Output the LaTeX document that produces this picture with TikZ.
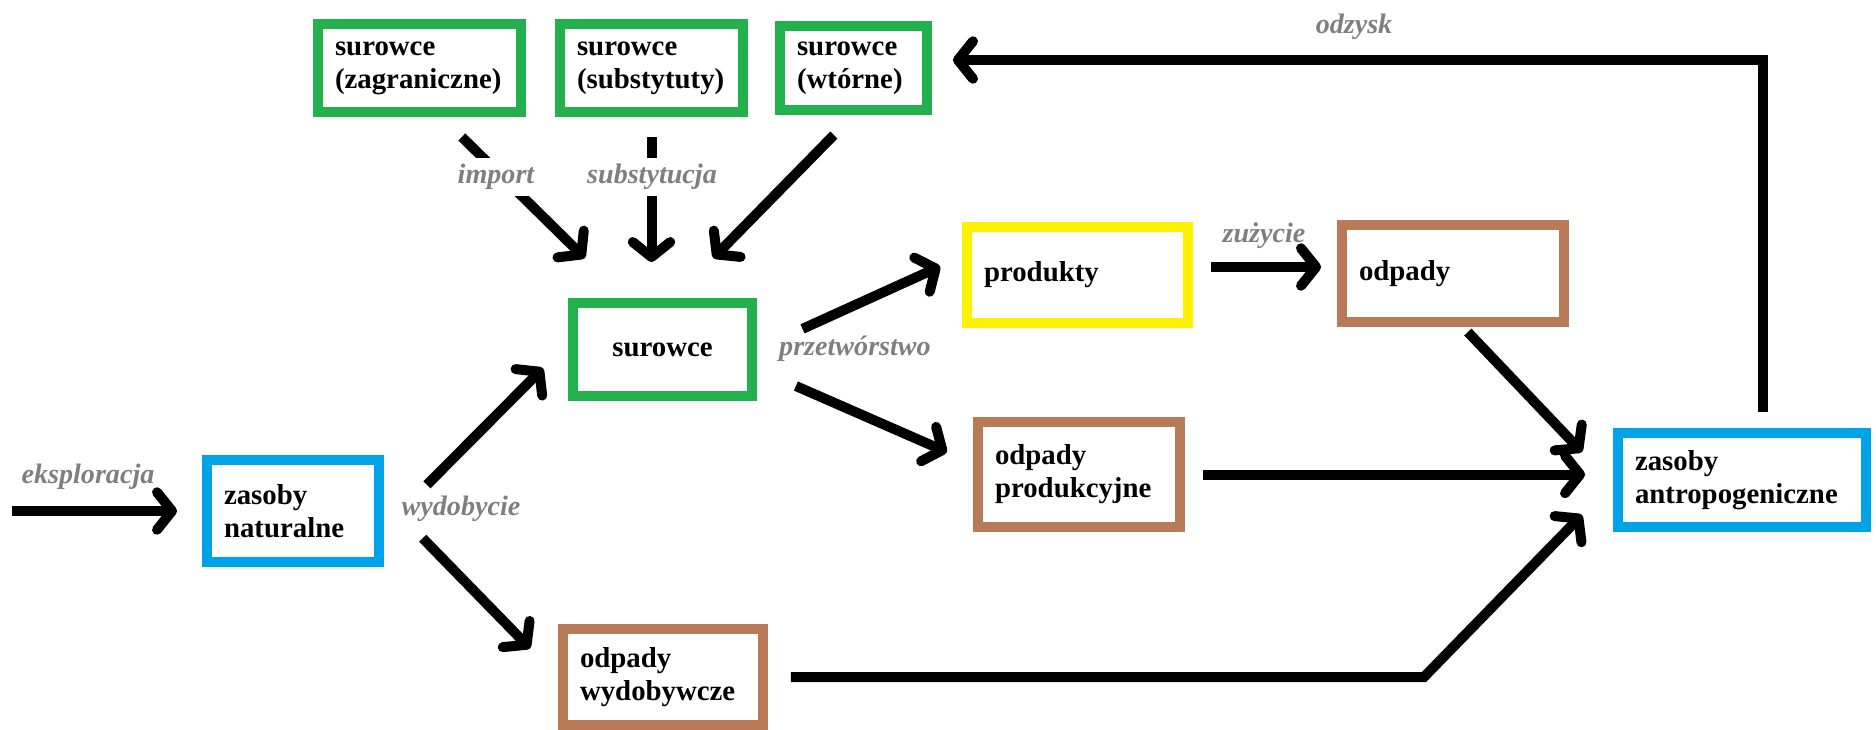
\documentclass[tikz,border=0pt]{standalone}
\usepackage{fontspec}
\setmainfont{Liberation Serif}
\usepackage{tikz}
\usetikzlibrary{arrows.meta}
\definecolor{boxgreen}{RGB}{34,177,76}
\definecolor{boxblue}{RGB}{0,162,232}
\definecolor{boxyellow}{RGB}{255,242,0}
\definecolor{boxbrown}{RGB}{185,122,87}
\definecolor{lblgray}{RGB}{127,127,127}
\hyphenpenalty=10000
\newcommand{\boxfont}{\fontsize{16.4}{18.8}\selectfont\bfseries}
\newcommand{\lblfont}{\fontsize{16}{18}\selectfont\bfseries\itshape}
\tikzset{x=0.02cm,y=-0.02cm}
\tikzset{box/.style={draw,rectangle,line width=0.2cm,align=left,inner xsep=0.34cm,inner ysep=0pt,font=\boxfont},
        flow/.style={line width=0.2cm,-{Straight Barb[length=0.3cm,width=0.75cm,round]}},
        lbl/.style={font=\lblfont,text=lblgray}}

\begin{document}
\begin{tikzpicture}[x=0.02cm,y=-0.02cm]
        \useasboundingbox (0,0) rectangle (1876,730);
        % surowce
        \node[box,draw=boxgreen,text width=3.38cm,minimum height=1.76cm] (zagr) at (419.5,68) {surowce\\(zagraniczne)};
        \node[box,draw=boxgreen,text width=2.98cm,minimum height=1.76cm] (subst) at (651.5,68) {surowce\\(substytuty)};
        \node[box,draw=boxgreen,text width=2.26cm,minimum height=1.68cm] (wtor) at (853.5,68) {surowce\\(wtórne)};
        \node[box,draw=boxgreen,text width=2.9cm,minimum height=1.86cm,align=center] (sur) at (662.5,349.5) {surowce};
        % produkty i odpady
        \node[box,draw=boxyellow,text width=3.74cm,minimum height=1.92cm] (prod) at (1077.5,275) {produkty};
        \node[box,draw=boxbrown,text width=3.76cm,minimum height=1.94cm] (odp) at (1453,273.5) {odpady};
        \node[box,draw=boxbrown,text width=3.36cm,minimum height=2.1cm] (odpprod) at (1079,474.5) {odpady\\produkcyjne};
        \node[box,draw=boxbrown,text width=3.32cm,minimum height=1.92cm] (odpwyd) at (663,677) {odpady\\wydobywcze};
        % zasoby
        \node[box,draw=boxblue,text width=2.76cm,minimum height=2.04cm] (nat) at (293,511) {zasoby\\naturalne};
        \node[box,draw=boxblue,text width=4.28cm,minimum height=1.88cm] (antro) at (1742,480) {zasoby\\antropogeniczne};
        \coordinate (start) at (12,511);
        \coordinate (kink) at (1424,677);

        \draw[flow,shorten >=0.5cm] (start) -- (nat.west);
        \draw[flow,shorten <=1.22cm,shorten >=0.71cm] ([yshift=-0.34cm]nat.east) -- ([yshift=0.13cm]sur.west);
        \draw[flow,shorten <=1.11cm,shorten >=0.8cm] ([yshift=0.25cm]nat.east) -- (odpwyd.west);
        \draw[flow,shorten <=0.57cm,shorten >=1.14cm] ([xshift=0.44cm]zagr.south) -- ([xshift=-0.74cm]sur.north);
        \draw[flow,shorten <=0.4cm,shorten >=0.72cm] (subst.south) -- (subst.south |- sur.north);
        \draw[flow,shorten <=0.56cm,shorten >=1.12cm] (wtor.south) -- ([xshift=0.23cm]sur.north);
        \draw[flow,shorten <=1cm,shorten >=0.48cm] (sur.east) -- ([yshift=0.37cm]prod.west);
        \draw[flow,shorten <=0.85cm,shorten >=0.57cm] ([yshift=-0.39cm]sur.east) -- ([yshift=0.22cm]odpprod.west);
        \draw[flow,shorten <=0.36cm,shorten >=0.32cm] ([yshift=0.16cm]prod.east) -- ([yshift=0.16cm]prod.east -| odp.west);
        \draw[flow,shorten <=0.14cm,shorten >=0.9cm] ([xshift=0.2cm]odp.south) -- ([yshift=-0.09cm]antro.west);
        \draw[flow,shorten <=0.36cm,shorten >=0.56cm] (odpprod.east) -- (odpprod.east -| antro.west);
        \draw[flow,shorten <=0.46cm,shorten >=0.89cm] (odpwyd.east) -- (kink) -- ([yshift=-0.06cm]antro.west);
        \draw[flow,shorten <=0.32cm,shorten >=0.42cm] ([xshift=0.42cm]antro.north) |- ([yshift=0.16cm]wtor.east);

        % opisy
        \node[lbl] (l-eks) at (88,477) {eksploracja};
        \node[lbl] (l-wyd) at (461,509) {wydobycie};
        \node[lbl,fill=white] (l-imp) at (496,177) {import};
        \node[lbl,fill=white] (l-sub) at (652,177) {substytucja};
        \node[lbl] (l-prz) at (855,349) {przetwórstwo};
        \node[lbl] (l-zuz) at (1264,236) {zużycie};
        \node[lbl] (l-odz) at (1354,27) {odzysk};
\end{tikzpicture}
\end{document}
